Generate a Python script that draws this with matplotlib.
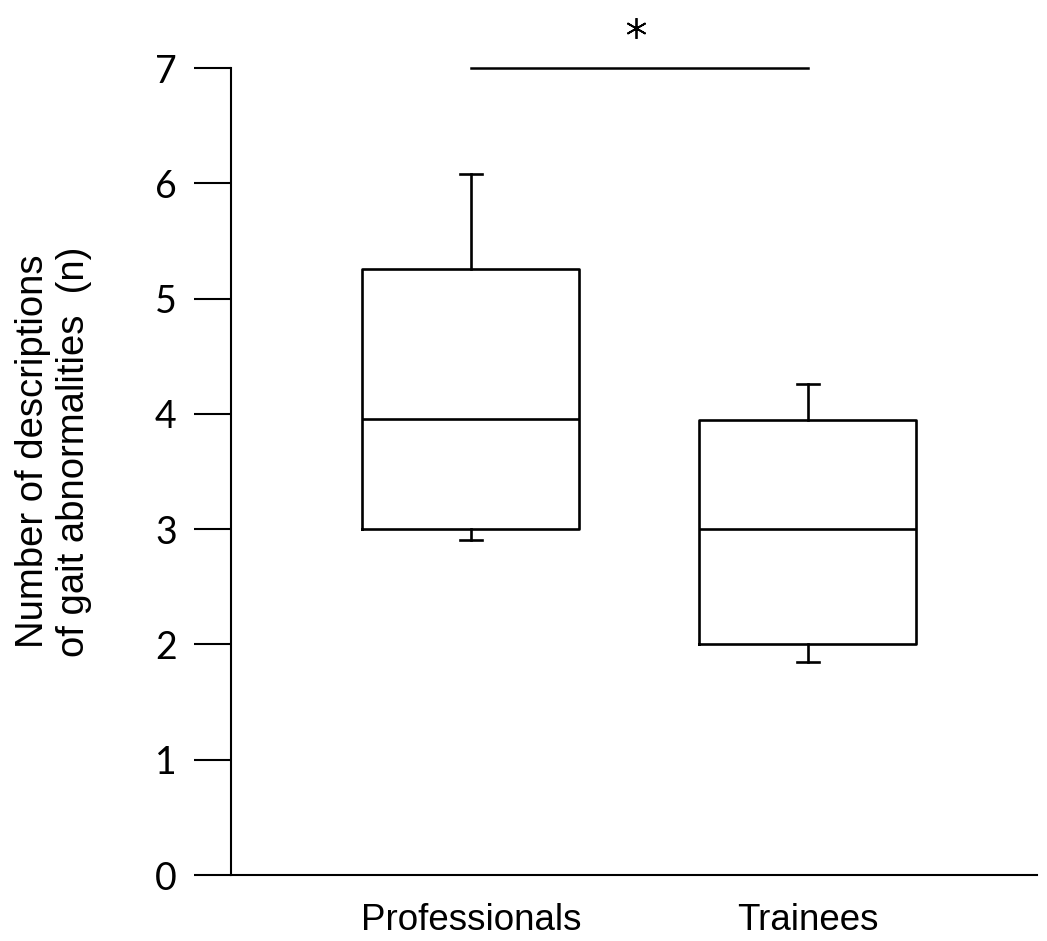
import matplotlib
matplotlib.use("Agg")
import matplotlib.pyplot as plt

# box statistics
groups = ["Professionals", "Trainees"]
q1 = [3.0, 2.0]
median = [3.96, 3.0]
q3 = [5.26, 3.95]
whisker_low = [2.91, 1.85]
whisker_high = [6.08, 4.26]
y_ticks = [0, 1, 2, 3, 4, 5, 6, 7]

stats = []
for i in range(len(groups)):
    stats.append({"label": groups[i], "q1": q1[i], "med": median[i], "q3": q3[i],
                  "whislo": whisker_low[i], "whishi": whisker_high[i], "fliers": []})

fig = plt.figure(figsize=(10.47, 9.41), dpi=100)
ax = fig.add_axes([0.2206, 0.0701, 0.7698, 0.8576])

lw = 1.9
ax.bxp(stats, positions=[1, 2], widths=0.644, capwidths=0.066, showfliers=False,
       boxprops=dict(color="black", linewidth=lw),
       medianprops=dict(color="black", linewidth=lw),
       whiskerprops=dict(color="black", linewidth=lw),
       capprops=dict(color="black", linewidth=lw))

ax.set_xlim(0.288, 2.680)
ax.set_ylim(0, 7)
ax.set_yticks(y_ticks)
ax.set_yticklabels([str(t) for t in y_ticks], fontname="Lato", fontsize=27)
ax.tick_params(axis="y", direction="out", length=27, width=1.5, pad=12)
ax.tick_params(axis="x", length=0, pad=20)
for lab in ax.get_xticklabels():
    lab.set_fontname("Liberation Sans")
    lab.set_fontsize(26.5)

for s in ["top", "right"]:
    ax.spines[s].set_visible(False)
for s in ["left", "bottom"]:
    ax.spines[s].set_linewidth(1.5)

ax.set_ylabel("Number of descriptions\nof gait abnormalities  (n)", fontname="Liberation Sans",
              fontsize=27.5, linespacing=1.2)
ax.yaxis.set_label_coords(-0.172, 0.525)

# significance bar
ax.plot([1, 2], [7, 7], color="black", linewidth=1.8, clip_on=False)
ax.plot([1.49], [7.35], marker=(6, 2, 0), color="black", markersize=15, markeredgewidth=1.3,
        clip_on=False)

fig.savefig("out.png", dpi=100)
